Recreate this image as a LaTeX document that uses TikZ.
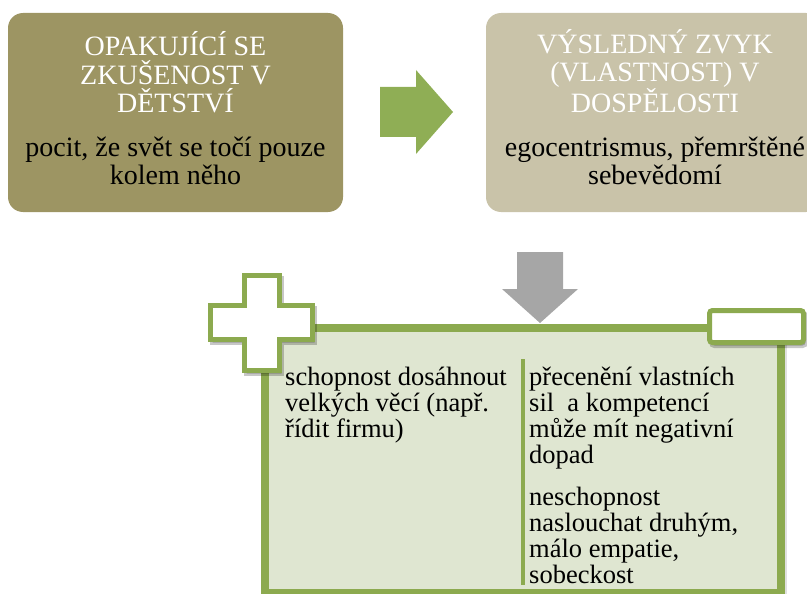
\documentclass[tikz,border=0pt]{standalone}
\usepackage{fontspec}
\setmainfont{Liberation Serif}
\newfontfamily\serifA{Liberation Serif}
\usetikzlibrary{shadows}
\definecolor{oliveA}{HTML}{9D9563}
\definecolor{tanA}{HTML}{C9C3A9}
\definecolor{greenArrow}{HTML}{8FAE55}
\definecolor{greenLine}{HTML}{8CAA4F}
\definecolor{greenFill}{HTML}{DFE6D1}
\definecolor{grayArrow}{HTML}{A6A6A6}
\begin{document}
\begin{tikzpicture}[x=1pt,y=-1pt,
  topbox/.style={rounded corners=15pt, draw=none, inner sep=0pt, minimum width=335pt, minimum height=199pt},
  titletext/.style={font=\serifA\fontsize{28}{28.5}\selectfont, text=white, align=center, inner sep=0pt},
  subtext/.style={font=\serifA\fontsize{28}{28}\selectfont, text=black, align=center, inner sep=0pt},
  bodytext/.style={font=\serifA\fontsize{26.5}{26}\selectfont, text=black, align=left, inner sep=0pt, anchor=base west},
  softshadow/.style={drop shadow={opacity=0.22, shadow xshift=2pt, shadow yshift=-3pt, fill=black, draw=black, line width=5pt}},
  greenframe/.style={draw=greenLine, line width=5pt, fill=white, line join=miter, softshadow}]
\useasboundingbox (0,0) rectangle (807,594);

% top boxes
\node[topbox, fill=oliveA] (box1) at (175.5,112.5) {};
\node[topbox, fill=tanA] (box2) at (653.5,112.5) {};

\node[titletext, anchor=base] (t1) at (175.5,113) {OPAKUJÍCÍ SE\\ZKUŠENOST V\\DĚTSTVÍ};
\node[subtext, anchor=base] (s1) at (175.5,184) {pocit, že svět se točí pouze\\kolem něho};
\node[titletext, anchor=base] (t2) at (655,113) {VÝSLEDNÝ ZVYK\\(VLASTNOST) V\\DOSPĚLOSTI};
\node[subtext, anchor=base] (s2) at (655,184) {egocentrismus, přemrštěné\\sebevědomí};

% green right arrow
\fill[greenArrow] (380,87) -- (416,87) -- (416,70) -- (453,112) -- (416,154) -- (416,137) -- (380,137) -- cycle;

% gray down arrow
\fill[grayArrow] (517,252) -- (563,252) -- (563,289) -- (578,289) -- (540,323) -- (502,289) -- (517,289) -- cycle;

% main box
\draw[draw=greenLine, line width=8pt, fill=greenFill, drop shadow={opacity=0.12, shadow xshift=2pt, shadow yshift=-2pt, fill=black, draw=black, line width=8pt}] (265,327.5) rectangle (781,593);

% plus sign
\draw[greenframe] (244.5,275.5) -- (279.5,275.5) -- (279.5,305.5) -- (312.5,305.5) -- (312.5,339.5) -- (279.5,339.5) -- (279.5,370.5) -- (244.5,370.5) -- (244.5,339.5) -- (210.5,339.5) -- (210.5,305.5) -- (244.5,305.5) -- cycle;

% minus sign
\draw[greenframe, rounded corners=3pt] (709.5,310.5) rectangle (803.5,342.5);

% divider
\draw[greenLine, line width=4pt] (523,359) -- (523,585);

% texts in main box
\node[bodytext] (left) at (285,437) {schopnost dosáhnout\\velkých věcí (např.\\řídit firmu)};
\node[bodytext] (right1) at (529,463) {přecenění vlastních\\sil\ \ a kompetencí\\může mít negativní\\dopad};
\node[bodytext] (right2) at (529,583) {neschopnost\\naslouchat druhým,\\málo empatie,\\sobeckost};
\end{tikzpicture}
\end{document}
